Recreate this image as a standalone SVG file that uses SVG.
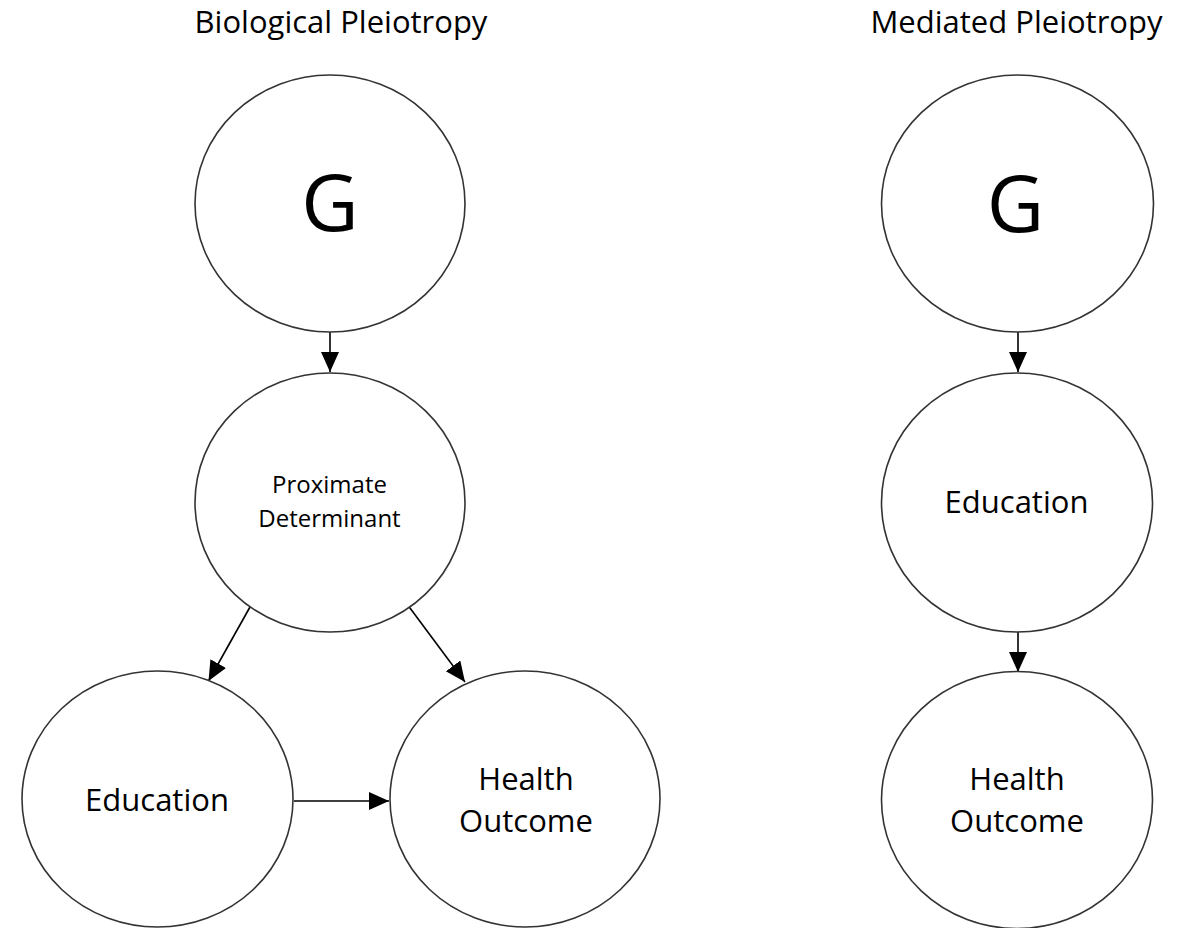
<svg xmlns="http://www.w3.org/2000/svg" width="1189" height="928" viewBox="0 0 1189 928">
  <style>
    .node { fill: #ffffff; stroke: #333333; stroke-width: 1.6; }
    .lbl { font-family: "Open Sans", "Noto Sans", sans-serif; fill: #000000; text-anchor: middle; }
    .title { font-size: 31px; }
    .big { font-size: 79px; }
    .mid { font-size: 31px; }
    .small { font-size: 24px; }
    .edge { stroke: #000000; stroke-width: 1.6; fill: none; marker-end: url(#arrow); }
  </style>
  <defs>
    <marker id="arrow" markerUnits="userSpaceOnUse" markerWidth="21" markerHeight="19" refX="20" refY="9" orient="auto">
      <path d="M0,0 L20,9 L0,18 z" fill="#000000"/>
    </marker>
  </defs>
  <rect width="1189" height="928" fill="#ffffff"/>

  <text class="lbl title" x="341" y="33">Biological Pleiotropy</text>
  <text class="lbl title" x="1016.5" y="33">Mediated Pleiotropy</text>

  <g id="connectors">
    <line class="edge" x1="330" y1="332" x2="330" y2="372"/>
    <line class="edge" x1="250" y1="607" x2="208.5" y2="681"/>
    <line class="edge" x1="408.5" y1="606" x2="465" y2="682"/>
    <line class="edge" x1="294" y1="801" x2="389" y2="801"/>
    <line class="edge" x1="1018" y1="332" x2="1018" y2="372"/>
    <line class="edge" x1="1018" y1="632" x2="1018" y2="672"/>
  </g>

  <g id="node-g-left">
    <ellipse class="node" cx="330" cy="203.5" rx="135" ry="128.5"/>
    <text class="lbl big" x="330" y="231">G</text>
  </g>
  <g id="node-proximate">
    <ellipse class="node" cx="330" cy="502.5" rx="135" ry="129.5"/>
    <text class="lbl small" x="329.5" y="493">Proximate</text>
    <text class="lbl small" x="329.5" y="527">Determinant</text>
  </g>
  <g id="node-education-left">
    <ellipse class="node" cx="157.5" cy="799" rx="135.5" ry="128"/>
    <text class="lbl mid" x="157" y="810.5">Education</text>
  </g>
  <g id="node-health-left">
    <ellipse class="node" cx="525" cy="799" rx="135" ry="128"/>
    <text class="lbl mid" x="526" y="790">Health</text>
    <text class="lbl mid" x="526" y="832">Outcome</text>
  </g>
  <g id="node-g-right">
    <ellipse class="node" cx="1017.5" cy="203.5" rx="136" ry="128.5"/>
    <text class="lbl big" x="1015.5" y="232">G</text>
  </g>
  <g id="node-education-right">
    <ellipse class="node" cx="1017" cy="502.5" rx="135.5" ry="129.5"/>
    <text class="lbl mid" x="1016.5" y="512.5">Education</text>
  </g>
  <g id="node-health-right">
    <ellipse class="node" cx="1017" cy="800" rx="135.5" ry="128.5"/>
    <text class="lbl mid" x="1017" y="790">Health</text>
    <text class="lbl mid" x="1017" y="832">Outcome</text>
  </g>
</svg>
